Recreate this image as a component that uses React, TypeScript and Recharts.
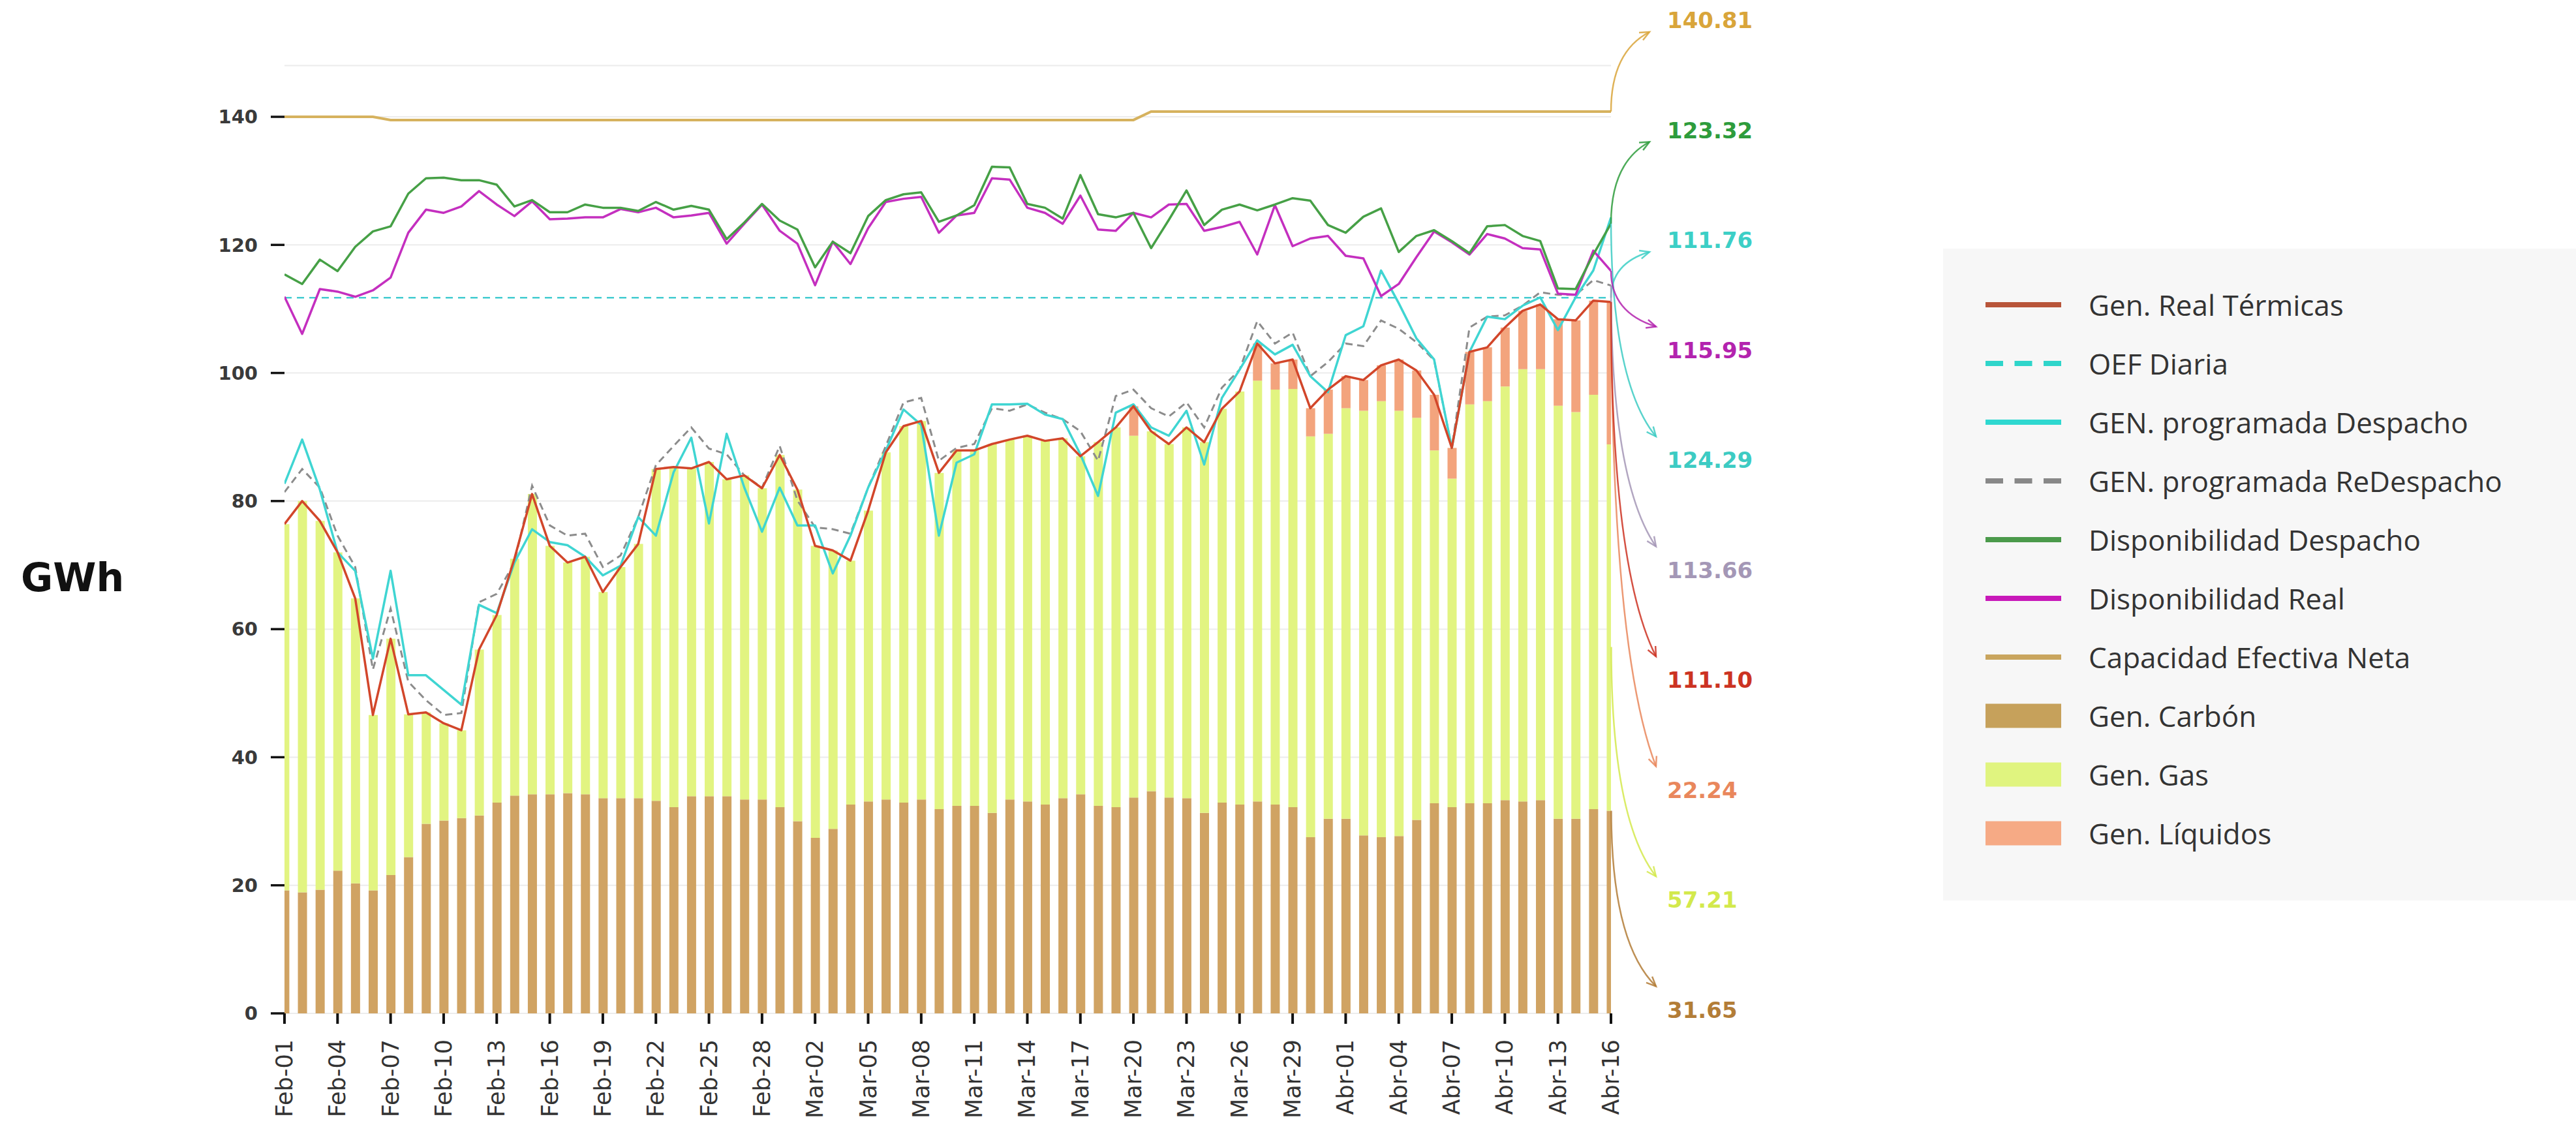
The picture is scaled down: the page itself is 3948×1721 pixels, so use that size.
import React from "react";
import { ComposedChart, Bar, Line, XAxis, YAxis, CartesianGrid, Legend, LabelList } from "recharts";

const DATES = [
  "Feb-01", "Feb-02", "Feb-03", "Feb-04", "Feb-05", "Feb-06", "Feb-07", "Feb-08", "Feb-09", "Feb-10",
  "Feb-11", "Feb-12", "Feb-13", "Feb-14", "Feb-15", "Feb-16", "Feb-17", "Feb-18", "Feb-19", "Feb-20",
  "Feb-21", "Feb-22", "Feb-23", "Feb-24", "Feb-25", "Feb-26", "Feb-27", "Feb-28", "Feb-29",
  "Mar-01", "Mar-02", "Mar-03", "Mar-04", "Mar-05", "Mar-06", "Mar-07", "Mar-08", "Mar-09", "Mar-10",
  "Mar-11", "Mar-12", "Mar-13", "Mar-14", "Mar-15", "Mar-16", "Mar-17", "Mar-18", "Mar-19", "Mar-20",
  "Mar-21", "Mar-22", "Mar-23", "Mar-24", "Mar-25", "Mar-26", "Mar-27", "Mar-28", "Mar-29", "Mar-30", "Mar-31",
  "Abr-01", "Abr-02", "Abr-03", "Abr-04", "Abr-05", "Abr-06", "Abr-07", "Abr-08", "Abr-09", "Abr-10",
  "Abr-11", "Abr-12", "Abr-13", "Abr-14", "Abr-15", "Abr-16",
];

const TICK_LABELS = [
  "Feb-01", "Feb-04", "Feb-07", "Feb-10", "Feb-13", "Feb-16", "Feb-19", "Feb-22", "Feb-25", "Feb-28",
  "Mar-02", "Mar-05", "Mar-08", "Mar-11", "Mar-14", "Mar-17", "Mar-20", "Mar-23", "Mar-26", "Mar-29",
  "Abr-01", "Abr-04", "Abr-07", "Abr-10", "Abr-13", "Abr-16",
];

const Y_TICKS = [0, 20, 40, 60, 80, 100, 120, 140];

// GWh por día
const CARBON = [
  19.2, 18.9, 19.3, 22.3, 20.3, 19.2, 21.6, 24.4, 29.6, 30.1,
  30.5, 30.9, 32.9, 34.0, 34.2, 34.2, 34.4, 34.2, 33.6, 33.6,
  33.6, 33.2, 32.2, 33.9, 33.9, 33.9, 33.4, 33.4, 32.2, 30.0,
  27.4, 28.8, 32.6, 33.1, 33.4, 32.9, 33.4, 31.9, 32.4, 32.4,
  31.3, 33.4, 33.1, 32.6, 33.6, 34.2, 32.4, 32.2, 33.7, 34.7,
  33.7, 33.6, 31.3, 32.9, 32.6, 33.1, 32.6, 32.2, 27.5, 30.4,
  30.4, 27.8, 27.5, 27.7, 30.2, 32.8, 32.2, 32.8, 32.8, 33.3,
  33.1, 33.3, 30.4, 30.4, 31.9, 31.65,
];

const GAS = [
  57.2, 61.1, 57.6, 49.7, 44.5, 27.4, 36.9, 22.3, 17.4, 15.2,
  13.7, 25.9, 29.3, 37.0, 46.9, 38.8, 36.0, 37.1, 32.2, 36.1,
  39.7, 51.8, 53.1, 51.2, 52.2, 49.5, 50.6, 48.6, 55.0, 51.8,
  45.6, 43.5, 38.1, 45.4, 54.2, 58.8, 59.1, 52.5, 55.5, 55.5,
  57.6, 56.2, 57.1, 56.8, 56.2, 52.8, 56.8, 59.3, 56.5, 56.2,
  55.2, 57.9, 57.9, 61.5, 64.5, 65.7, 64.8, 65.3, 62.6, 60.1,
  64.1, 66.3, 68.1, 66.4, 62.8, 55.1, 51.3, 62.3, 62.8, 64.6,
  67.5, 67.3, 64.5, 63.5, 64.7, 57.21,
];

const LIQUIDOS = [
  0, 0, 0, 0, 0, 0, 0, 0, 0, 0,
  0, 0, 0, 0, 0, 0, 0, 0, 0, 0,
  0, 0, 0, 0, 0, 0, 0, 0, 0, 0,
  0, 0, 0, 0, 0, 0, 0, 0, 0, 0,
  0, 0, 0, 0, 0, 0, 0, 0, 4.6, 0,
  0, 0, 0, 0, 0, 5.8, 4.1, 4.6, 4.4, 6.9,
  5.0, 4.8, 5.6, 8.0, 7.4, 8.7, 4.8, 8.2, 8.4, 9.2,
  9.1, 10.1, 13.5, 14.3, 14.7, 22.24,
];

const REAL_TERMICAS = [
  76.4, 80.0, 76.9, 72.0, 64.8, 46.6, 58.5, 46.7, 47.0, 45.3,
  44.2, 56.8, 62.2, 71.0, 81.1, 73.0, 70.4, 71.3, 65.8, 69.7,
  73.3, 85.0, 85.3, 85.1, 86.1, 83.4, 84.0, 82.0, 87.2, 81.8,
  73.0, 72.3, 70.7, 78.5, 87.6, 91.7, 92.5, 84.4, 87.9, 87.9,
  88.9, 89.6, 90.2, 89.4, 89.8, 87.0, 89.2, 91.5, 94.8, 90.9,
  88.9, 91.5, 89.2, 94.4, 97.1, 104.6, 101.5, 102.1, 94.5, 97.4,
  99.5, 98.9, 101.2, 102.1, 100.4, 96.6, 88.3, 103.3, 104.0, 107.1,
  109.7, 110.7, 108.4, 108.2, 111.3, 111.1,
];

const OEF = [
  111.76, 111.76, 111.76, 111.76, 111.76, 111.76, 111.76, 111.76, 111.76, 111.76,
  111.76, 111.76, 111.76, 111.76, 111.76, 111.76, 111.76, 111.76, 111.76, 111.76,
  111.76, 111.76, 111.76, 111.76, 111.76, 111.76, 111.76, 111.76, 111.76, 111.76,
  111.76, 111.76, 111.76, 111.76, 111.76, 111.76, 111.76, 111.76, 111.76, 111.76,
  111.76, 111.76, 111.76, 111.76, 111.76, 111.76, 111.76, 111.76, 111.76, 111.76,
  111.76, 111.76, 111.76, 111.76, 111.76, 111.76, 111.76, 111.76, 111.76, 111.76,
  111.76, 111.76, 111.76, 111.76, 111.76, 111.76, 111.76, 111.76, 111.76, 111.76,
  111.76, 111.76, 111.76, 111.76, 111.76, 111.76,
];

const PROG_DESPACHO = [
  82.7, 89.6, 81.8, 72.0, 69.1, 55.4, 69.1, 52.8, 52.8, 50.5,
  48.2, 63.8, 62.5, 70.4, 75.6, 73.6, 73.1, 71.3, 68.4, 69.9,
  77.5, 74.6, 84.5, 89.9, 76.5, 90.5, 82.1, 75.2, 82.1, 76.2,
  76.2, 68.7, 74.6, 82.1, 87.9, 94.3, 91.9, 74.6, 86.0, 87.3,
  95.1, 95.1, 95.2, 93.5, 92.8, 87.3, 80.8, 93.8, 95.1, 91.5,
  90.2, 94.1, 85.7, 96.1, 100.5, 105.1, 102.9, 104.4, 99.5, 97.0,
  105.9, 107.3, 116.0, 110.9, 105.4, 102.1, 88.3, 103.3, 108.8, 108.4,
  110.5, 111.8, 106.7, 111.8, 116.0, 124.29,
];

const PROG_REDESPACHO = [
  81.4, 85.0, 82.1, 74.6, 69.7, 53.7, 63.2, 51.8, 48.9, 46.6,
  46.9, 64.2, 65.5, 70.4, 82.4, 76.2, 74.6, 74.9, 69.7, 71.5,
  77.5, 85.6, 88.6, 91.5, 88.2, 87.3, 84.0, 82.1, 88.6, 80.1,
  75.9, 75.6, 74.9, 82.1, 88.6, 95.4, 96.1, 86.3, 88.3, 88.9,
  94.5, 94.1, 95.1, 93.8, 92.8, 90.9, 86.3, 96.4, 97.4, 94.5,
  93.2, 95.4, 91.5, 97.7, 100.5, 108.1, 104.6, 106.3, 99.5, 101.7,
  104.6, 104.2, 108.2, 106.9, 104.8, 102.0, 88.3, 107.1, 108.8, 109.0,
  110.5, 112.6, 112.2, 112.2, 114.5, 113.66,
];

const DISP_DESPACHO = [
  115.4, 113.9, 117.7, 115.9, 119.7, 122.1, 122.9, 128.0, 130.4, 130.5,
  130.1, 130.1, 129.4, 126.0, 127.0, 125.1, 125.1, 126.3, 125.8, 125.8,
  125.3, 126.7, 125.5, 126.1, 125.5, 120.9, 123.5, 126.4, 123.8, 122.4,
  116.5, 120.5, 118.7, 124.5, 127.0, 127.9, 128.2, 123.6, 124.6, 126.2,
  132.2, 132.1, 126.4, 125.8, 124.1, 130.9, 124.8, 124.3, 125.0, 119.5,
  123.9, 128.5, 123.1, 125.5, 126.3, 125.4, 126.3, 127.3, 126.9, 123.1,
  121.9, 124.4, 125.7, 118.9, 121.4, 122.3, 120.6, 118.7, 122.9, 123.1,
  121.4, 120.6, 113.2, 113.1, 118.5, 123.32,
];

const DISP_REAL = [
  111.9, 106.1, 113.1, 112.7, 111.9, 112.9, 114.9, 121.9, 125.5, 125.0,
  126.0, 128.4, 126.3, 124.5, 126.8, 124.0, 124.1, 124.3, 124.3, 125.6,
  125.1, 125.8, 124.3, 124.6, 125.0, 120.2, 123.3, 126.3, 122.2, 120.2,
  113.7, 120.5, 117.0, 122.6, 126.7, 127.2, 127.5, 121.9, 124.6, 125.0,
  130.4, 130.2, 125.8, 125.0, 123.3, 127.7, 122.4, 122.2, 125.0, 124.3,
  126.3, 126.4, 122.2, 122.8, 123.6, 118.5, 126.2, 119.8, 121.0, 121.4,
  118.3, 117.9, 112.0, 113.9, 118.1, 122.1, 120.4, 118.5, 121.7, 121.0,
  119.5, 119.3, 112.4, 112.2, 119.1, 115.95,
];

const CAPACIDAD = [
  140.0, 140.0, 140.0, 140.0, 140.0, 140.0, 139.5, 139.5, 139.5, 139.5,
  139.5, 139.5, 139.5, 139.5, 139.5, 139.5, 139.5, 139.5, 139.5, 139.5,
  139.5, 139.5, 139.5, 139.5, 139.5, 139.5, 139.5, 139.5, 139.5, 139.5,
  139.5, 139.5, 139.5, 139.5, 139.5, 139.5, 139.5, 139.5, 139.5, 139.5,
  139.5, 139.5, 139.5, 139.5, 139.5, 139.5, 139.5, 139.5, 139.5, 140.81,
  140.81, 140.81, 140.81, 140.81, 140.81, 140.81, 140.81, 140.81, 140.81, 140.81,
  140.81, 140.81, 140.81, 140.81, 140.81, 140.81, 140.81, 140.81, 140.81, 140.81,
  140.81, 140.81, 140.81, 140.81, 140.81, 140.81,
];

const LAST = DATES.length - 1;
const TICK_IDX = TICK_LABELS.map((l) => DATES.indexOf(l));

const data = DATES.map((date, i) => ({
  i,
  date,
  carbon: CARBON[i],
  gas: GAS[i],
  liquidos: LIQUIDOS[i],
  real: REAL_TERMICAS[i],
  oef: OEF[i],
  despacho: PROG_DESPACHO[i],
  redespacho: PROG_REDESPACHO[i],
  dispDespacho: DISP_DESPACHO[i],
  dispReal: DISP_REAL[i],
  capacidad: CAPACIDAD[i],
}));

const LEGEND_ITEMS = [
  { name: "Gen. Real Térmicas", color: "#b8553a", kind: "line" },
  { name: "OEF Diaria", color: "#2fd5ca", kind: "dash" },
  { name: "GEN. programada Despacho", color: "#2fd8d0", kind: "line" },
  { name: "GEN. programada ReDespacho", color: "#888888", kind: "dash" },
  { name: "Disponibilidad Despacho", color: "#4b9a4b", kind: "line" },
  { name: "Disponibilidad Real", color: "#c819b9", kind: "line" },
  { name: "Capacidad Efectiva Neta", color: "#c9a55e", kind: "line" },
  { name: "Gen. Carbón", color: "#c6a15b", kind: "box" },
  { name: "Gen. Gas", color: "#e0f47f", kind: "box" },
  { name: "Gen. Líquidos", color: "#f6aa85", kind: "box" },
];

// notas de valor final a la derecha
const NOTE_X = 2555;
const NOTE_TOP = 31;
const NOTE_STEP = 168.5;
const fmt = (v: number) => v.toFixed(2);

function drawNote(slot: number, color: string, text: string, x0: number, y0: number) {
  const ty = NOTE_TOP + slot * NOTE_STEP;
  const up = ty < y0;
  const x1 = up ? NOTE_X - 27 : NOTE_X - 17;
  const y1 = up ? ty + 18 : ty - 36;
  const cx = x0;
  const cy = y0 + (y1 - y0) * 0.75;
  const ang = Math.atan2(y1 - cy, x1 - cx);
  const hl = 16;
  const ha = 0.42;
  const ax = x1 - hl * Math.cos(ang - ha);
  const ay = y1 - hl * Math.sin(ang - ha);
  const bx = x1 - hl * Math.cos(ang + ha);
  const by = y1 - hl * Math.sin(ang + ha);
  return (
    <g>
      <path d={`M${x0},${y0} Q${cx},${cy} ${x1},${y1}`} fill="none" stroke={color} strokeWidth={2.5} opacity={0.85} />
      <path d={`M${ax},${ay} L${x1},${y1} L${bx},${by}`} fill="none" stroke={color} strokeWidth={2.5} opacity={0.85} />
      <text x={NOTE_X} y={ty} fill={color} fontFamily="DejaVu Sans" fontWeight="bold" fontSize={34} dominantBaseline="central">
        {text}
      </text>
    </g>
  );
}

const lineNote = (slot: number, color: string, text: string) => (props: any) => {
  if (props.index !== LAST) return null;
  const vb = props.viewBox || props;
  return drawNote(slot, color, text, vb.x, vb.y);
};

// bar labels read the row index (dataKey "i") so zero-height segments can't shift the lookup
const barNote = (slot: number, color: string, text: string, frac: number) => (props: any) => {
  if (props.value !== LAST) return null;
  const vb = props.viewBox || props;
  return drawNote(slot, color, text, vb.x + vb.width / 2, vb.y + vb.height * frac);
};

const XTick = (props: any) => {
  const { x, y, payload } = props;
  return (
    <text x={x} y={y} transform={`rotate(-90 ${x} ${y})`} textAnchor="end" dominantBaseline="central" fontFamily="DejaVu Sans" fontSize={35} fill="#333">
      {DATES[payload.value]}
    </text>
  );
};

const renderLegend = () => (
  <div style={{ width: "100%", height: "100%", background: "#f7f7f7", boxSizing: "border-box", padding: "41px 0 0 65px" }}>
    {LEGEND_ITEMS.map((it) => (
      <div key={it.name} style={{ display: "flex", alignItems: "center", height: 90 }}>
        <svg width={116} height={40} style={{ flex: "none" }}>
          {it.kind === "box" ? (
            <rect x={0} y={1.5} width={116} height={37} fill={it.color} />
          ) : (
            <line x1={0} y1={20} x2={116} y2={20} stroke={it.color} strokeWidth={8} strokeDasharray={it.kind === "dash" ? "27 17.5" : undefined} />
          )}
        </svg>
        <span style={{ marginLeft: 42, fontFamily: "'Open Sans', sans-serif", fontSize: 44, color: "#333", lineHeight: 1, whiteSpace: "nowrap" }}>
          {it.name}
        </span>
      </div>
    ))}
  </div>
);

const renderGwh = () => (
  <text x={32} y={885} fontFamily="DejaVu Sans" fontWeight="bold" fontSize={60} fill="#111" dominantBaseline="central">
    GWh
  </text>
);

export default function App() {
  return (
    <div style={{ position: "absolute", left: 0, top: 0, width: 3948, height: 1721, background: "#fff" }}>
      <ComposedChart width={3948} height={1721} data={data} margin={{ top: 100.5, right: 1479, bottom: 0, left: 0 }}>
        <CartesianGrid vertical={false} stroke="#ececec" strokeWidth={2} />
        <XAxis
          dataKey="i"
          type="number"
          domain={[0, LAST]}
          allowDataOverflow
          ticks={TICK_IDX}
          interval={0}
          height={168}
          axisLine={false}
          tickSize={16}
          tickMargin={24}
          tickLine={{ stroke: "#111", strokeWidth: 4 }}
          tick={<XTick />}
        />
        <YAxis
          domain={[0, 148]}
          ticks={Y_TICKS}
          width={436}
          axisLine={false}
          tickSize={21}
          tickMargin={20}
          tickLine={{ stroke: "#111", strokeWidth: 3.5 }}
          tick={{ fontFamily: "DejaVu Sans", fontSize: 29, fontWeight: "bold", fill: "#3a3a3a" }}
          label={renderGwh}
        />
        <Legend layout="vertical" align="center" verticalAlign="middle" wrapperStyle={{ left: 2978, top: 381, width: 970, height: 999 }} content={renderLegend} />

        <Bar dataKey="carbon" name="Gen. Carbón" stackId="gen" fill="#d0a363" barSize={14} isAnimationActive={false}>
          <LabelList dataKey="i" content={barNote(9, "#b37d37", fmt(CARBON[LAST]), 0)} />
        </Bar>
        <Bar dataKey="gas" name="Gen. Gas" stackId="gen" fill="#e2f481" barSize={14} isAnimationActive={false}>
          <LabelList dataKey="i" content={barNote(8, "#d3e94c", fmt(GAS[LAST]), CARBON[LAST] / GAS[LAST])} />
        </Bar>
        <Bar dataKey="liquidos" name="Gen. Líquidos" stackId="gen" fill="#f3a47d" barSize={14} isAnimationActive={false}>
          <LabelList dataKey="i" content={barNote(7, "#e9875c", fmt(LIQUIDOS[LAST]), 0)} />
        </Bar>

        <Line dataKey="oef" name="OEF Diaria" stroke="#43ccd0" strokeWidth={2.5} strokeDasharray="11 8" dot={false} activeDot={false} isAnimationActive={false}>
          <LabelList content={lineNote(2, "#3ccfc6", fmt(OEF[LAST]))} />
        </Line>
        <Line dataKey="redespacho" name="GEN. programada ReDespacho" stroke="#8c8c8c" strokeWidth={3} strokeDasharray="11 7" dot={false} activeDot={false} isAnimationActive={false}>
          <LabelList content={lineNote(5, "#a497b6", fmt(PROG_REDESPACHO[LAST]))} />
        </Line>
        <Line dataKey="despacho" name="GEN. programada Despacho" stroke="#3fd5d2" strokeWidth={3.5} strokeLinejoin="round" dot={false} activeDot={false} isAnimationActive={false}>
          <LabelList content={lineNote(4, "#3dcbc3", fmt(PROG_DESPACHO[LAST]))} />
        </Line>
        <Line dataKey="real" name="Gen. Real Térmicas" stroke="#d2462a" strokeWidth={3.5} strokeLinejoin="round" dot={false} activeDot={false} isAnimationActive={false}>
          <LabelList content={lineNote(6, "#cc3322", fmt(REAL_TERMICAS[LAST]))} />
        </Line>
        <Line dataKey="dispReal" name="Disponibilidad Real" stroke="#c42fbf" strokeWidth={3.5} strokeLinejoin="round" dot={false} activeDot={false} isAnimationActive={false}>
          <LabelList content={lineNote(3, "#b323ae", fmt(DISP_REAL[LAST]))} />
        </Line>
        <Line dataKey="dispDespacho" name="Disponibilidad Despacho" stroke="#46a046" strokeWidth={3.5} strokeLinejoin="round" dot={false} activeDot={false} isAnimationActive={false}>
          <LabelList content={lineNote(1, "#2e9c3c", fmt(DISP_DESPACHO[LAST]))} />
        </Line>
        <Line dataKey="capacidad" name="Capacidad Efectiva Neta" stroke="#d6b25e" strokeWidth={4} dot={false} activeDot={false} isAnimationActive={false}>
          <LabelList content={lineNote(0, "#d9a53a", fmt(CAPACIDAD[LAST]))} />
        </Line>
      </ComposedChart>
    </div>
  );
}
